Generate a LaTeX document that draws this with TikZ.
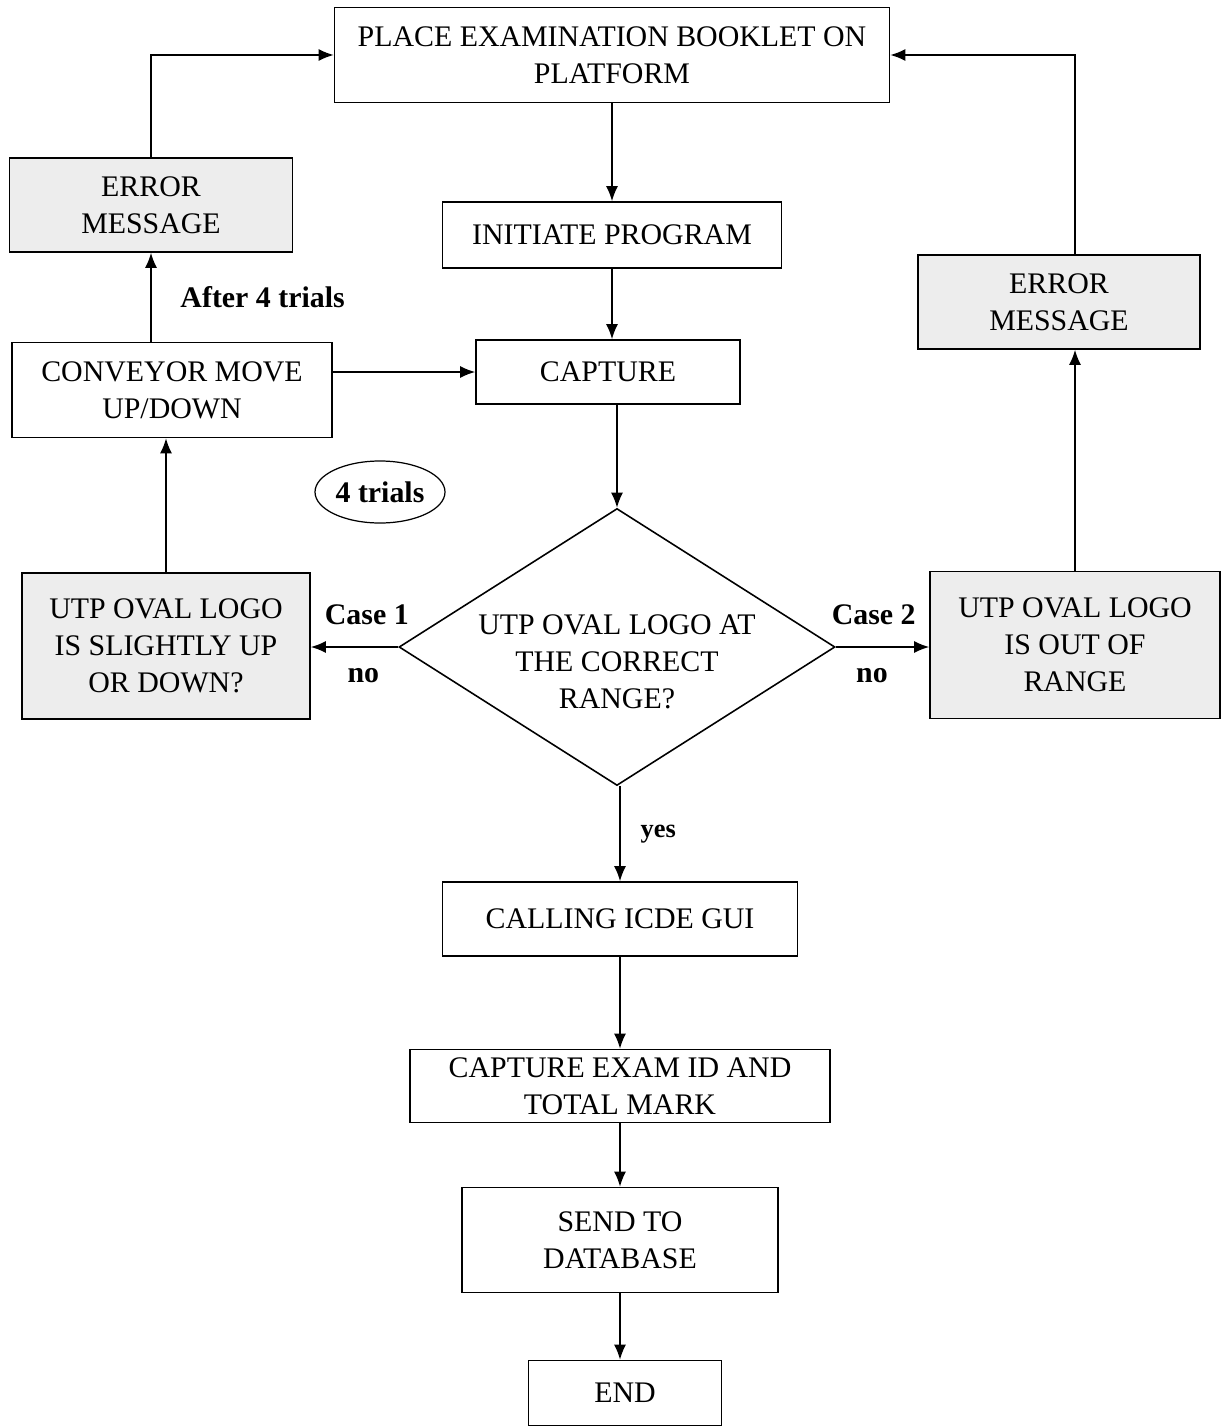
\documentclass[tikz,border=0pt]{standalone}
\usepackage{fontspec}
\setmainfont{Liberation Serif}
\usetikzlibrary{arrows.meta}
\usetikzlibrary{shapes.geometric}
\usetikzlibrary{positioning}
\definecolor{mgray}{rgb}{0.93, 0.93, 0.93}
\tikzset{box/.style = {draw, line width = 0.9pt, align = center, inner sep = 0, font = \fontsize{17}{21}\selectfont}}
\tikzset{greybox/.style = {box, fill = mgray}}
\tikzset{flow/.style = {line width = 0.9pt, -{Latex[length = 3mm, width = 2.4mm]}}}
\tikzset{lbl/.style = {font = \fontsize{17}{21}\selectfont\bfseries}}

\begin{document}
\begin{tikzpicture}[x = 0.2mm, y = -0.2mm]
      \useasboundingbox (0, 0) rectangle (1226, 1428);

      \node [box, minimum width = 111mm, minimum height = 19mm] (place) at (612, 55) {PLACE EXAMINATION BOOKLET ON\\PLATFORM};
      \node [box, minimum width = 67.8mm, minimum height = 13.2mm] (init) at (612, 235) {INITIATE PROGRAM};
      \node [box, minimum width = 52.8mm, minimum height = 12.8mm] (capture) at (608, 372) {CAPTURE};
      \node [greybox, minimum width = 56.6mm, minimum height = 18.8mm] (errL) at (151, 205) {ERROR\\MESSAGE};
      \node [greybox, minimum width = 56.4mm, minimum height = 18.8mm] (errR) at (1059, 302) {ERROR\\MESSAGE};
      \node [box, minimum width = 64mm, minimum height = 19mm] (conv) at (172, 390) {CONVEYOR MOVE\\UP/DOWN};
      \node [draw, ellipse, line width = 0.7pt, minimum width = 26mm, minimum height = 12.4mm, inner sep = 0, lbl] (trials) at (380, 492) {4 trials};

      \node [draw, diamond, line width = 0.9pt, minimum width = 87.2mm, minimum height = 55.4mm, inner sep = 0] (dec) at (617, 647) {};
      \node [align = center, font = \fontsize{17}{21}\selectfont, yshift = -3mm] at (dec) {UTP OVAL LOGO AT\\THE CORRECT\\RANGE?};

      \node [greybox, minimum width = 57.6mm, minimum height = 29.2mm] (utpL) at (166, 646) {UTP OVAL LOGO\\IS SLIGHTLY UP\\OR DOWN?};
      \node [greybox, minimum width = 58mm, minimum height = 29.4mm] (utpR) at (1075, 645) {UTP OVAL LOGO\\IS OUT OF\\RANGE};

      \node [box, minimum width = 71mm, minimum height = 14.8mm] (calling) at (620, 919) {CALLING ICDE GUI};
      \node [box, minimum width = 84mm, minimum height = 14.6mm] (exam) at (620, 1086) {CAPTURE EXAM ID AND\\TOTAL MARK};
      \node [box, minimum width = 63.2mm, minimum height = 21mm] (send) at (620, 1240) {SEND TO\\DATABASE};
      \node [box, minimum width = 38.6mm, minimum height = 13mm] (end) at (625, 1393) {END};

      % main line
      \draw [flow] (place) -- (init);
      \draw [flow] (init) -- (init |- capture.north);
      \draw [flow] (capture.south -| dec.north) -- (dec.north);
      \draw [flow] (dec.south -| calling.north) -- node [right = 8pt, lbl, font = \fontsize{15}{18}\selectfont\bfseries] {yes} (calling.north);
      \draw [flow] (calling) -- (exam);
      \draw [flow] (exam) -- (send);
      \draw [flow] (send.south) -- (send.south |- end.north);

      % case 1
      \draw [flow] (dec.west) -- node [above = 9pt, xshift = 7pt, lbl] {Case 1} node [below = 8.5pt, xshift = 5pt, lbl] {no} (dec.west -| utpL.east);
      \draw [flow] (utpL.north) -- (utpL.north |- conv.south);
      \draw [flow] (errL.south |- conv.north) -- node [right = 13pt, lbl] {After 4 trials} (errL.south);
      \draw [flow] (errL.north) |- (place.west);
      \draw [flow] (conv.east |- capture.west) -- (capture.west);

      % case 2
      \draw [flow] (dec.east) -- node [above = 9pt, xshift = -5pt, lbl] {Case 2} node [below = 8.5pt, xshift = -6pt, lbl] {no} (dec.east -| utpR.west);
      \draw [flow] (utpR.north) -- (utpR.north |- errR.south);
      \draw [flow] (utpR.north |- errR.north) |- (place.east);
\end{tikzpicture}
\end{document}
